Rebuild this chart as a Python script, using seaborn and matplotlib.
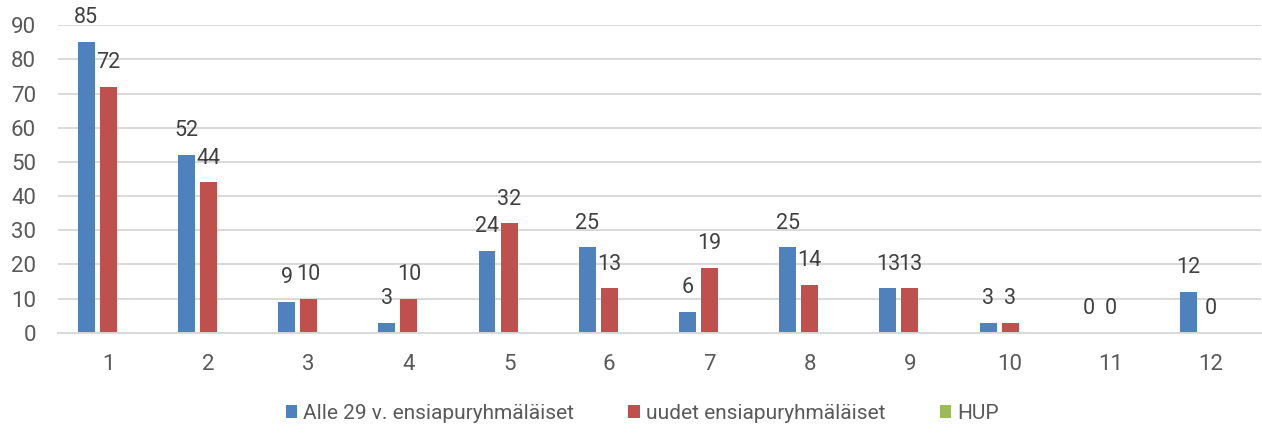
import matplotlib
matplotlib.use('Agg')
import matplotlib.pyplot as plt
import seaborn as sns
import pandas as pd
import numpy as np
from matplotlib.patches import Patch

# Chart data
categories = ['1', '2', '3', '4', '5', '6', '7', '8', '9', '10', '11', '12']
alle_29 = [85, 52, 9, 3, 24, 25, 6, 25, 13, 3, 0, 12]
uudet = [72, 44, 10, 10, 32, 13, 19, 14, 13, 3, 0, 0]
hup = [np.nan, np.nan, np.nan, np.nan, np.nan, np.nan,
       np.nan, np.nan, np.nan, np.nan, np.nan, np.nan]
series_names = ['Alle 29 v. ensiapuryhmäläiset', 'uudet ensiapuryhmäläiset', 'HUP']
colors = ['#4f81bd', '#c0504d', '#9bbb59']

y_ticks = [0, 10, 20, 30, 40, 50, 60, 70, 80, 90]

# Long-form table for seaborn
rows = []
for name, values in zip(series_names, [alle_29, uudet, hup]):
    for cat, v in zip(categories, values):
        rows.append({'kategoria': cat, 'arvo': v, 'sarja': name})
df = pd.DataFrame(rows)

sns.set_style('white')
plt.rcParams['font.family'] = ['Roboto', 'DejaVu Sans']
text_color = '#595959'

fig = plt.figure(figsize=(12.62, 4.34), dpi=100)
ax = fig.add_axes([0.046, 0.233, 0.953, 0.709])

sns.barplot(data=df, x='kategoria', y='arvo', hue='sarja',
            order=categories, hue_order=series_names, palette=colors,
            saturation=1, width=0.66, gap=0.23, errorbar=None, legend=False,
            edgecolor='none', ax=ax)

# Value labels on the two visible series
for container in ax.containers[:2]:
    ax.bar_label(container, fmt='%g', padding=10, fontsize=15.5, color='#404040')

ax.set_ylim(0, 90)
ax.set_xlim(-0.5, 11.5)
ax.set_yticks(y_ticks)
ax.set_xlabel('')
ax.set_ylabel('')

ax.yaxis.grid(True, color='#d9d9d9', linewidth=1.4)
ax.set_axisbelow(True)
for side in ['top', 'right', 'left']:
    ax.spines[side].set_visible(False)
ax.spines['bottom'].set_color('#d9d9d9')
ax.spines['bottom'].set_linewidth(1.4)

ax.tick_params(axis='y', length=0, pad=16, labelsize=16, labelcolor=text_color)
ax.tick_params(axis='x', length=0, pad=15, labelsize=16, labelcolor=text_color)

# Legend below the chart
handles = [Patch(facecolor=c, edgecolor='none') for c in colors]
fig.legend(handles, series_names, loc='center', bbox_to_anchor=(0.509, 0.048),
           ncol=3, frameon=False, handlelength=0.55, handleheight=0.55,
           handletextpad=0.3, columnspacing=2.6, fontsize=15,
           labelcolor=text_color)

plt.savefig('out.png', dpi=100)
